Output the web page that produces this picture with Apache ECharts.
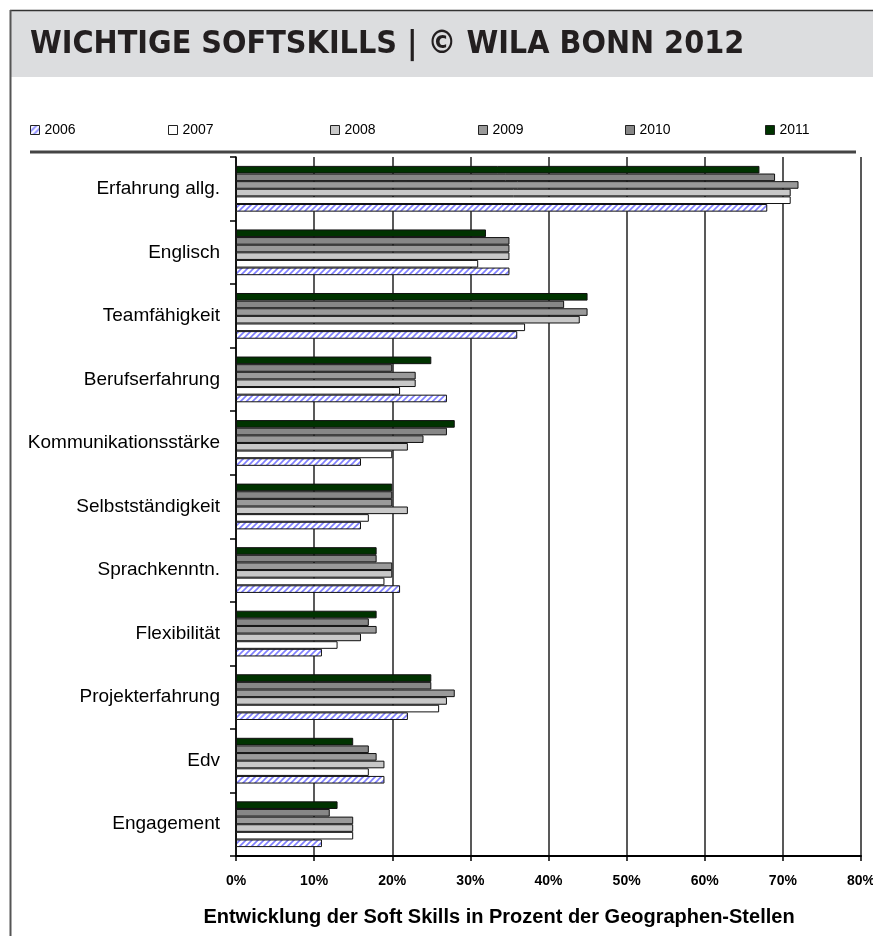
<!DOCTYPE html>
<html>
<head>
<meta charset="utf-8">
<title>Wichtige Softskills</title>
<script src="https://cdn.jsdelivr.net/npm/echarts@6/dist/echarts.min.js"></script>
<style>
    html, body { margin: 0; padding: 0; background: #fff; }
    #main { width: 873px; height: 936px; }
</style>
</head>
<body>
<div id="main"></div>
<script>
// categories (top to bottom)
var skills = ['Erfahrung allg.', 'Englisch', 'Teamfähigkeit', 'Berufserfahrung', 'Kommunikationsstärke',
    'Selbstständigkeit', 'Sprachkenntn.', 'Flexibilität', 'Projekterfahrung', 'Edv', 'Engagement'];
var years = ['2006', '2007', '2008', '2009', '2010', '2011'];

// values in percent
var v2006 = [68, 35, 36, 27, 16, 16, 21, 11, 22, 19, 11];
var v2007 = [71, 31, 37, 21, 20, 17, 19, 13, 26, 17, 15];
var v2008 = [71, 35, 44, 23, 22, 22, 20, 16, 27, 19, 15];
var v2009 = [72, 35, 45, 23, 24, 20, 20, 18, 28, 18, 15];
var v2010 = [69, 35, 42, 20, 27, 20, 18, 17, 25, 17, 12];
var v2011 = [67, 32, 45, 25, 28, 20, 18, 18, 25, 15, 13];

var xTicks = [0, 10, 20, 30, 40, 50, 60, 70, 80];

(function () {
    "use strict";

    // hatched fill for 2006
    var hatch = document.createElement('canvas');
    hatch.width = 6;
    hatch.height = 6;
    var ctx = hatch.getContext('2d');
    ctx.fillStyle = '#ffffff';
    ctx.fillRect(0, 0, 6, 6);
    ctx.strokeStyle = '#7f7fff';
    ctx.lineWidth = 1.6;
    ctx.beginPath();
    ctx.moveTo(0, 6); ctx.lineTo(6, 0);
    ctx.moveTo(-3, 3); ctx.lineTo(3, -3);
    ctx.moveTo(3, 9); ctx.lineTo(9, 3);
    ctx.stroke();

    var fills = [{ image: hatch, repeat: 'repeat' }, '#ffffff', '#c8c8c8', '#9a9a9a', '#878787', '#003300'];
    var values = [v2006, v2007, v2008, v2009, v2010, v2011];
    var legendX = [30, 168, 330, 478, 625, 765];

    var myChart = echarts.init(document.getElementById('main'), null, { renderer: 'canvas' });

    var series = [];
    var legends = [];
    years.forEach(function (year, i) {
        series.push({
            name: year,
            type: 'bar',
            data: values[i],
            barGap: '0%',
            barCategoryGap: '28%',
            itemStyle: {
                color: fills[i],
                borderColor: '#111',
                borderWidth: 1
            },
            emphasis: { disabled: true }
        });
        legends.push({
            data: [year],
            left: legendX[i],
            top: 123,
            padding: 0,
            itemWidth: 9,
            itemHeight: 9,
            icon: 'rect',
            textStyle: { fontFamily: 'Liberation Sans, Arial', fontSize: 14, color: '#000' },
            itemStyle: { borderColor: '#222', borderWidth: 1 },
            selectedMode: false
        });
    });
    // 2011 drawn on top of each group
    series.reverse();

    var option = {
        animation: false,
        legend: legends,
        grid: {
            left: 236,
            right: 12,
            top: 157,
            bottom: 80,
            outerBoundsMode: 'none'
        },
        xAxis: {
            type: 'value',
            min: xTicks[0],
            max: xTicks[xTicks.length - 1],
            interval: 10,
            axisLine: { show: true, lineStyle: { color: '#000', width: 2 } },
            axisTick: { show: true, length: 5, lineStyle: { color: '#000', width: 1.5 } },
            axisLabel: {
                formatter: '{value}%',
                margin: 18,
                fontFamily: 'Liberation Sans, Arial',
                fontWeight: 'bold',
                fontSize: 14,
                color: '#000'
            },
            splitLine: { show: true, lineStyle: { color: '#222', width: 1.5 } }
        },
        yAxis: {
            type: 'category',
            data: skills,
            inverse: true,
            axisLine: { show: true, lineStyle: { color: '#000', width: 1.5 } },
            axisTick: { show: true, length: 6, lineStyle: { color: '#000', width: 1.5 } },
            axisLabel: {
                margin: 16,
                fontFamily: 'Liberation Sans, Arial',
                fontSize: 19,
                color: '#000'
            }
        },
        graphic: [
            {
                type: 'rect',
                shape: { x: 10, y: 10, width: 880, height: 67 },
                style: { fill: '#dcdddf' },
                z: -10
            },
            {
                type: 'line',
                shape: { x1: 10, y1: 10.5, x2: 873, y2: 10.5 },
                style: { stroke: '#333', lineWidth: 1.5 }
            },
            {
                type: 'line',
                shape: { x1: 10.5, y1: 10, x2: 10.5, y2: 936 },
                style: { stroke: '#555', lineWidth: 2 }
            },
            {
                type: 'text',
                left: 30,
                top: 29,
                style: {
                    text: 'WICHTIGE SOFTSKILLS | © WILA BONN 2012',
                    font: 'bold 32px "DejaVu Sans Condensed", "Liberation Sans Narrow", sans-serif',
                    fill: '#231f20'
                }
            },
            {
                type: 'line',
                shape: { x1: 30, y1: 152, x2: 856, y2: 152 },
                style: { stroke: '#444', lineWidth: 3 }
            },
            {
                type: 'text',
                x: 499,
                y: 917,
                style: {
                    text: 'Entwicklung der Soft Skills in Prozent der Geographen-Stellen',
                    font: 'bold 20px "Liberation Sans", Arial, sans-serif',
                    fill: '#000',
                    align: 'center',
                    verticalAlign: 'middle'
                }
            }
        ],
        series: series
    };

    myChart.setOption(option);
})();
</script>
</body>
</html>
